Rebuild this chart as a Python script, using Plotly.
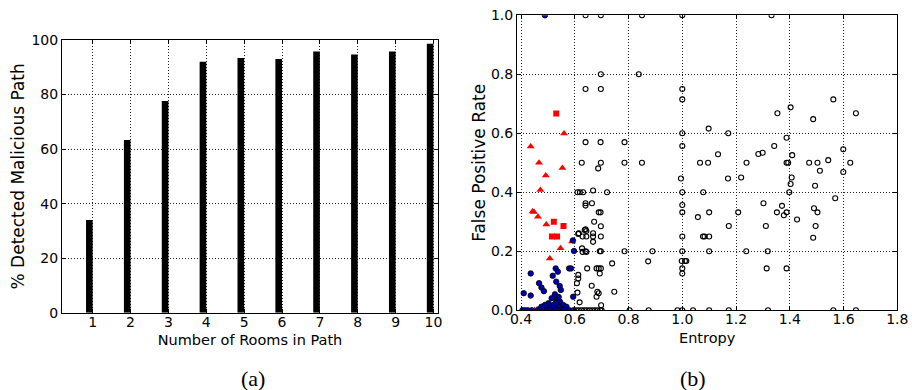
import plotly.graph_objects as go

# ---------- (a) bar chart data ----------
rooms = [1, 2, 3, 4, 5, 6, 7, 8, 9, 10]
detected_pct = [34.0, 63.3, 77.6, 92.0, 93.4, 93.0, 95.8, 94.7, 95.8, 98.6]

# ---------- (b) scatter data: (entropy, false positive rate) ----------
red_tri_x = [0.436, 0.560, 0.467, 0.554, 0.492, 0.472, 0.448, 0.443, 0.463, 0.494, 0.547, 0.507, 0.590, 0.450]
red_tri_y = [0.555, 0.599, 0.500, 0.482, 0.457, 0.408, 0.333, 0.335, 0.317, 0.291, 0.210, 0.176, 0.233, 0.000]

red_sq_x = [0.531, 0.522, 0.558, 0.515, 0.534]
red_sq_y = [0.667, 0.300, 0.286, 0.250, 0.250]

blue_x = [0.489, 0.593, 0.597, 0.436, 0.529, 0.579, 0.586, 0.518, 0.537, 0.467,
          0.531, 0.544, 0.476, 0.410, 0.436, 0.485, 0.594, 0.548, 0.526, 0.514,
          0.532, 0.545, 0.502, 0.489, 0.520, 0.557, 0.476, 0.538, 0.569, 0.507,
          0.464, 0.551, 0.522, 0.530, 0.540, 0.405, 0.415, 0.425, 0.440, 0.470,
          0.485, 0.495, 0.505, 0.515, 0.525, 0.535, 0.545, 0.555, 0.565, 0.580, 0.595]
blue_y = [1.000, 0.237, 0.201, 0.125, 0.142, 0.142, 0.142, 0.117, 0.131, 0.092,
          0.097, 0.082, 0.077, 0.058, 0.050, 0.065, 0.046, 0.069, 0.054, 0.041,
          0.035, 0.029, 0.024, 0.018, 0.018, 0.018, 0.012, 0.012, 0.012, 0.007,
          0.003, 0.004, 0.008, 0.025, 0.045, 0.000, 0.000, 0.000, 0.000, 0.000,
          0.000, 0.000, 0.000, 0.000, 0.000, 0.000, 0.000, 0.000, 0.000, 0.000, 0.000]

black_x = [0.640, 0.697, 0.850, 1.000, 1.332,
           0.697, 0.838,
           0.640, 0.697, 1.000, 1.000,
           1.403, 1.562, 1.354, 1.487, 1.646,
           1.000, 1.098, 1.171,
           0.640, 0.696, 0.785, 1.000,
           1.388, 1.342, 1.599, 1.409, 1.133, 1.299, 1.283,
           0.626, 0.697, 0.785, 0.850, 1.066, 1.096, 1.239, 1.388, 1.394, 1.472,
           1.503, 1.625, 1.543, 1.512, 1.599, 0.687,
           0.995, 1.170, 1.219, 1.407, 1.403, 1.494, 1.569, 1.398,
           0.610, 0.619, 0.631, 0.668, 0.720, 1.000, 1.078,
           0.640, 0.640, 0.664, 0.689, 0.696, 1.000, 1.000, 1.100, 1.058, 1.208,
           1.302, 1.352, 1.371, 1.378, 1.388, 1.427, 1.490, 1.503, 1.496, 1.487,
           1.311, 1.173,
           0.672, 0.697, 0.640, 0.615, 0.668,
           0.613, 0.629, 0.643, 0.668, 0.697, 1.000, 1.077, 1.083, 1.100, 0.643,
           0.637, 0.668,
           0.627, 0.640, 0.629, 0.643,
           0.693, 0.697, 0.785, 0.889, 1.000, 1.100, 1.238, 1.318,
           0.873, 0.739, 0.646, 0.681, 0.689, 0.697, 0.693, 0.998, 1.010, 1.015,
           1.000, 1.000, 1.314, 1.388,
           0.613, 0.613, 0.608, 0.663, 0.684, 0.689, 0.610, 0.681, 0.747, 0.618, 0.698,
           0.605, 0.615, 0.625, 0.635, 0.645, 0.655, 0.665, 0.675, 0.685, 0.695,
           0.700, 0.804, 0.875, 0.982, 1.000, 1.040, 1.100, 1.173, 1.319, 1.562, 1.646]
black_y = [1.000, 1.000, 1.000, 1.000, 1.000,
           0.800, 0.800,
           0.750, 0.750, 0.750, 0.715,
           0.688, 0.715, 0.668, 0.648, 0.668,
           0.600, 0.616, 0.600,
           0.570, 0.570, 0.570, 0.557,
           0.585, 0.557, 0.546, 0.526, 0.529, 0.534, 0.530,
           0.500, 0.500, 0.500, 0.500, 0.500, 0.500, 0.500, 0.500, 0.500, 0.500,
           0.500, 0.500, 0.509, 0.473, 0.469, 0.481,
           0.447, 0.447, 0.450, 0.450, 0.428, 0.422, 0.380, 0.400,
           0.400, 0.400, 0.400, 0.406, 0.400, 0.400, 0.400,
           0.363, 0.355, 0.363, 0.332, 0.332, 0.357, 0.332, 0.332, 0.316, 0.332,
           0.363, 0.332, 0.354, 0.322, 0.332, 0.308, 0.346, 0.332, 0.286, 0.246,
           0.286, 0.286,
           0.300, 0.285, 0.275, 0.261, 0.261,
           0.259, 0.250, 0.250, 0.250, 0.250, 0.250, 0.250, 0.250, 0.250, 0.269,
           0.272, 0.232,
           0.210, 0.200, 0.198, 0.198,
           0.200, 0.200, 0.200, 0.200, 0.200, 0.200, 0.200, 0.200,
           0.166, 0.159, 0.142, 0.142, 0.142, 0.142, 0.125, 0.167, 0.167, 0.167,
           0.142, 0.125, 0.142, 0.142,
           0.120, 0.108, 0.092, 0.083, 0.063, 0.058, 0.060, 0.046, 0.063, 0.027, 0.017,
           0.000, 0.000, 0.000, 0.000, 0.000, 0.000, 0.000, 0.000, 0.000, 0.000,
           0.000, 0.000, 0.000, 0.000, 0.000, 0.000, 0.000, 0.000, 0.000, 0.000, 0.000]

FONT = "DejaVu Sans"

fig = go.Figure()

fig.add_trace(go.Bar(
    x=rooms, y=detected_pct, width=0.175, offset=-0.175,
    marker=dict(color="black", line=dict(width=0)),
    xaxis="x", yaxis="y", showlegend=False,
))

fig.add_trace(go.Scatter(
    x=red_tri_x, y=red_tri_y, mode="markers",
    marker=dict(symbol="triangle-up", size=7, color="red", line=dict(width=0)),
    xaxis="x2", yaxis="y2", showlegend=False,
))
fig.add_trace(go.Scatter(
    x=red_sq_x, y=red_sq_y, mode="markers",
    marker=dict(symbol="square", size=6, color="red", line=dict(width=0)),
    xaxis="x2", yaxis="y2", showlegend=False,
))
fig.add_trace(go.Scatter(
    x=blue_x, y=blue_y, mode="markers",
    marker=dict(symbol="circle", size=5.5, color="#0000b0", line=dict(width=0.8, color="black")),
    xaxis="x2", yaxis="y2", showlegend=False,
))
fig.add_trace(go.Scatter(
    x=black_x, y=black_y, mode="markers",
    marker=dict(symbol="circle-open", size=5, color="black", line=dict(width=1.1)),
    xaxis="x2", yaxis="y2", showlegend=False,
))

W, H = 912, 390

def axis_common():
    return dict(
        showline=True, linecolor="black", linewidth=1, mirror="ticks",
        ticks="inside", ticklen=4, tickcolor="black", tickwidth=1,
        showgrid=True, gridcolor="#222222", gridwidth=1, griddash="1px,2px",
        zeroline=False, automargin=False,
        tickfont=dict(family=FONT, size=14, color="black"),
    )

fig.update_layout(
    width=W, height=H,
    margin=dict(l=0, r=0, t=0, b=0, autoexpand=False),
    paper_bgcolor="white", plot_bgcolor="white",
    font=dict(family=FONT, color="black"),
    xaxis=dict(domain=[62 / W, 438 / W], range=[0.19, 10.12],
               tickvals=rooms, anchor="y", ticklabelstandoff=-4,
               title=dict(text="Number of Rooms in Path", font=dict(family=FONT, size=14.5), standoff=6),
               **axis_common()),
    yaxis=dict(domain=[1 - 312.7 / H, 1 - 40 / H], range=[0, 100],
               tickvals=[0, 20, 40, 60, 80, 100], anchor="x",
               title=dict(text="% Detected Malicious Path", font=dict(family=FONT, size=17), standoff=2),
               **axis_common()),
    xaxis2=dict(domain=[517 / W, 897.3 / W], range=[0.385, 1.8],
                tickvals=[0.4, 0.6, 0.8, 1.0, 1.2, 1.4, 1.6, 1.8], tickformat=".1f", anchor="y2",
                ticklabelstandoff=-4,
                title=dict(text="Entropy", font=dict(family=FONT, size=14.5), standoff=6),
                **axis_common()),
    yaxis2=dict(domain=[1 - 310.3 / H, 1 - 15.3 / H], range=[0, 1],
                tickvals=[0, 0.2, 0.4, 0.6, 0.8, 1.0], tickformat=".1f", anchor="x2",
                title=dict(text="False Positive Rate", font=dict(family=FONT, size=17), standoff=0),
                **axis_common()),
    annotations=[
        dict(text="(a)", x=253 / W, y=1 - 378 / H, xref="paper", yref="paper",
             xanchor="center", yanchor="middle",
             showarrow=False, font=dict(family="Liberation Serif", size=22, color="black")),
        dict(text="(b)", x=693 / W, y=1 - 378 / H, xref="paper", yref="paper",
             xanchor="center", yanchor="middle",
             showarrow=False, font=dict(family="Liberation Serif", size=22, color="black")),
    ],
)

fig.write_html("out.html", config={"displayModeBar": False})

# remove the browser's default page margin so the figure sits at the window origin
with open("out.html", "r", encoding="utf-8") as f:
    html = f.read()
html = html.replace("<head>", "<head><style>html,body{margin:0;padding:0;}</style>", 1)
with open("out.html", "w", encoding="utf-8") as f:
    f.write(html)
